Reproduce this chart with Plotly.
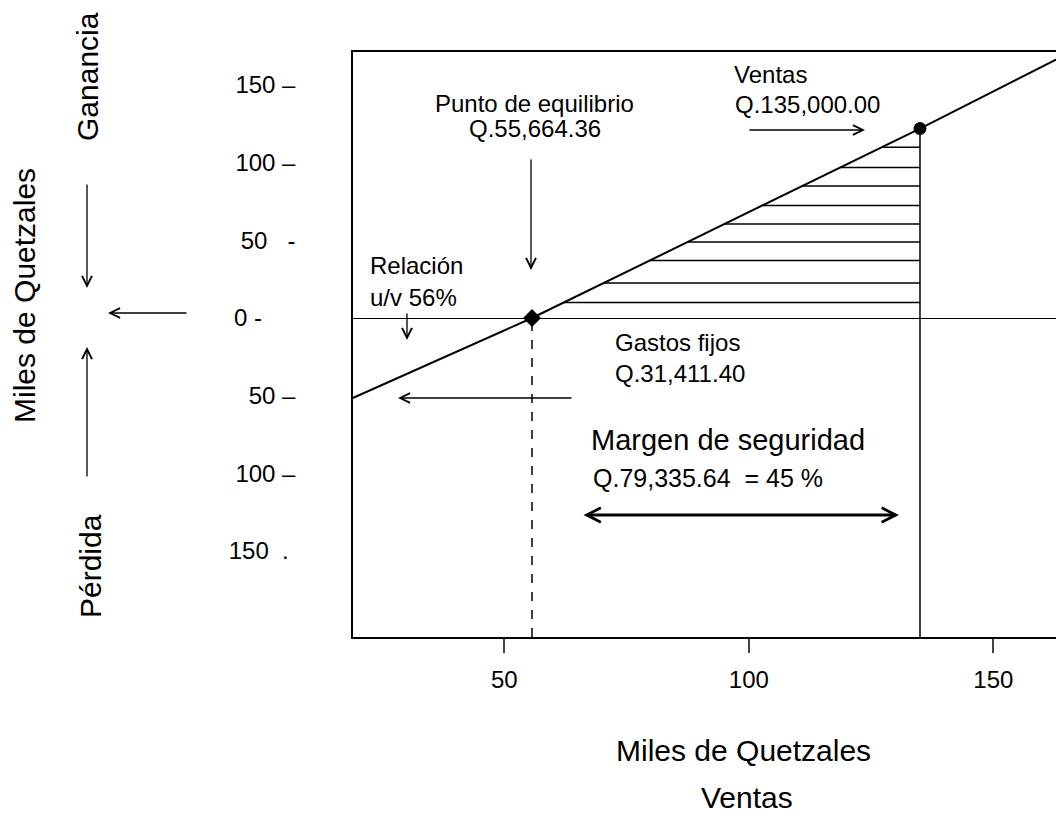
'''
    Grafica de punto de equilibrio (utilidad-volumen) con margen de seguridad
'''

import plotly.graph_objects as go

# datos (miles de quetzales)
linea_x = [19.0, 55.66, 135.0, 164.4]
linea_y = [-51.5, 0.0, 122.0, 169.0]

punto_equilibrio = [55.66, 0.0]
punto_ventas = [135.0, 122.0]

niveles_rayado = [10, 22.5, 37, 49, 60.5, 72.5, 85, 97, 110]

ticks_x = [50, 100, 150]
ticks_y = [150, 100, 50, 0, -50, -100, -150]
NB = '\u00a0'
textos_y = ['150 –', '100 –', '50' + NB * 3 + '-', '0 -' + NB * 5,
            '50 –', '100 –', '150' + NB * 2 + '.' + NB]

rango_x = [19.05, 164.45]
rango_y = [-205.4, 171.3]

FUENTE = 'Liberation Sans, Arial, sans-serif'

# area de la grafica en pixeles de pantalla
IZQ, DER, ARR, ABA = 353, 1064, 52, 637


def px(x):
    return (x - IZQ) / (DER - IZQ)


def py(y):
    return (ABA - y) / (ABA - ARR)


def init_figure():
    fig = go.Figure()
    fig.update_layout(
        width=1056, height=820,
        template='simple_white',
        paper_bgcolor='white',
        plot_bgcolor='white',
        showlegend=False,
        margin=dict(l=345, r=0, t=44, b=191),
        font=dict(family=FUENTE, color='black', size=24),
    )
    return fig


def draw_chart(fig):
    # rayado horizontal entre la linea y las ventas
    hx, hy = [], []
    for nivel in niveles_rayado:
        x0 = punto_equilibrio[0] + nivel * (punto_ventas[0] - punto_equilibrio[0]) / punto_ventas[1]
        hx += [x0, punto_ventas[0], None]
        hy += [nivel, nivel, None]
    fig.add_trace(go.Scatter(x=hx, y=hy, mode='lines',
                             line=dict(color='black', width=1.5)))

    # linea vertical de ventas
    fig.add_trace(go.Scatter(x=[punto_ventas[0], punto_ventas[0]],
                             y=[rango_y[0], punto_ventas[1]], mode='lines',
                             line=dict(color='black', width=1.5)))
    # linea punteada del punto de equilibrio
    fig.add_trace(go.Scatter(x=[punto_equilibrio[0], punto_equilibrio[0]],
                             y=[rango_y[0], punto_equilibrio[1]], mode='lines',
                             line=dict(color='black', width=1.5, dash='dash')))

    # linea de utilidad
    fig.add_trace(go.Scatter(x=linea_x, y=linea_y, mode='lines',
                             line=dict(color='black', width=2)))

    # puntos de equilibrio y de ventas
    fig.add_trace(go.Scatter(x=[punto_equilibrio[0]], y=[punto_equilibrio[1]],
                             mode='markers',
                             marker=dict(color='black', size=13, symbol='diamond',
                                         opacity=1,
                                         line=dict(color='black', width=1))))
    fig.add_trace(go.Scatter(x=[punto_ventas[0]], y=[punto_ventas[1]],
                             mode='markers',
                             marker=dict(color='black', size=12, symbol='circle',
                                         opacity=1,
                                         line=dict(color='black', width=1))))

    fig.update_xaxes(range=rango_x, showline=True, mirror=True, linecolor='black',
                     linewidth=1.5, ticks='outside', ticklen=14, tickwidth=1.5,
                     tickvals=ticks_x, ticklabelstandoff=6,
                     tickfont=dict(family=FUENTE, size=24),
                     showgrid=False, zeroline=False)
    fig.update_yaxes(range=rango_y, showline=True, mirror=False, linecolor='black',
                     linewidth=1.5, ticks='', tickvals=ticks_y, ticktext=textos_y,
                     ticklabelstandoff=51,
                     tickfont=dict(family=FUENTE, size=24),
                     showgrid=False, zeroline=True, zerolinecolor='black',
                     zerolinewidth=1)
    return fig


def add_texts(fig):
    # (texto, x, y, anclaje, tamano)
    textos = [
        ('Punto de equilibrio', 534, 103, 'center', 24),
        ('Q.55,664.36', 535, 129, 'center', 24),
        ('Ventas', 732, 75, 'left', 24),
        ('Q.135,000.00', 733, 104, 'left', 24),
        ('Relación', 368, 265, 'left', 24),
        ('u/v 56%', 368, 297, 'left', 24),
        ('Gastos fijos', 613, 342, 'left', 24),
        ('Q.31,411.40', 613, 373, 'left', 24),
        ('Margen de seguridad', 589, 440, 'left', 29),
        ('Q.79,335.64  = 45 %', 591, 478, 'left', 25),
        ('Miles de Quetzales', 743, 750, 'center', 30),
        ('Ventas', 747, 797, 'center', 30),
    ]
    for texto, x, y, anc, tam in textos:
        fig.add_annotation(text=texto.replace('  ', ' ' + NB), showarrow=False,
                           xref='paper', yref='paper', x=px(x), y=py(y),
                           xanchor=anc, yanchor='middle',
                           font=dict(family=FUENTE, size=tam))

    verticales = [
        ('Miles de Quetzales', 24, 296),
        ('Ganancia', 88, 77),
        ('Pérdida', 90, 566),
    ]
    for texto, x, y in verticales:
        fig.add_annotation(text=texto, showarrow=False, textangle=-90,
                           xref='paper', yref='paper', x=px(x), y=py(y),
                           xanchor='center', yanchor='middle',
                           font=dict(family=FUENTE, size=30))

    # flechas: (x punta, y punta, x cola, y cola)
    flechas = [
        (531, 270, 531, 158),
        (865, 130, 748, 130),
        (407, 340, 407, 312),
        (398, 398, 573, 398),
        (87, 288, 87, 183),
        (87, 347, 87, 478),
        (108, 313, 188, 313),
    ]
    for x1, y1, x0, y0 in flechas:
        fig.add_annotation(text='', showarrow=True, xref='paper', yref='paper',
                           x=px(x1), y=py(y1), ax=x0 - x1, ay=y0 - y1,
                           arrowhead=5, arrowsize=1.5, arrowwidth=1.3,
                           arrowcolor='black')
    fig.add_annotation(text='', showarrow=True, xref='paper', yref='paper',
                       x=px(899), y=py(515), ax=582 - 899, ay=0,
                       arrowhead=5, startarrowhead=5, arrowside='end+start',
                       arrowsize=1, startarrowsize=1, arrowwidth=2.8,
                       arrowcolor='black')
    return fig


fig = init_figure()
fig = draw_chart(fig)
fig = add_texts(fig)
fig.write_html('out.html')
